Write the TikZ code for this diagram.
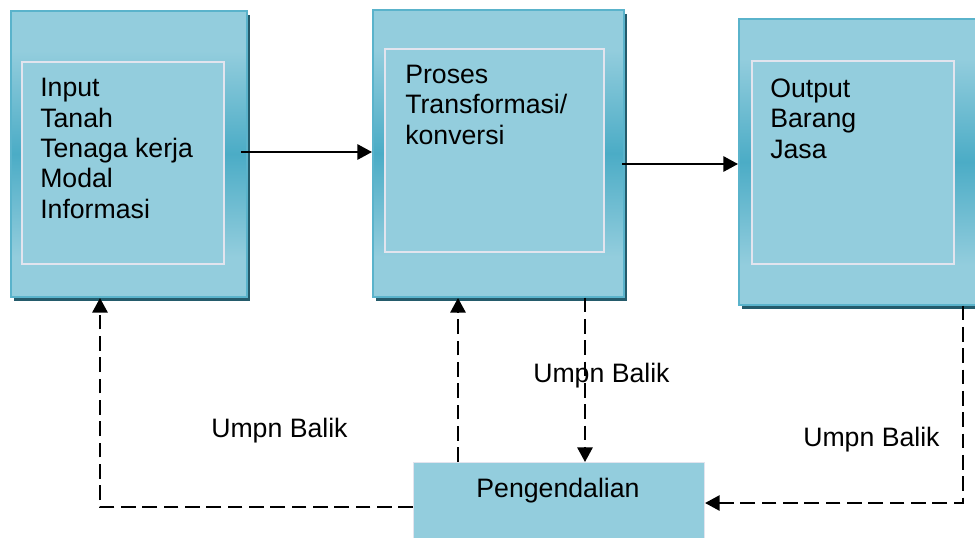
\documentclass[tikz,border=0pt]{standalone}
\usepackage{fontspec}
\setmainfont{Liberation Sans}
\usetikzlibrary{arrows.meta,shadows}

\definecolor{tlight}{HTML}{93CDDD}
\definecolor{tdark}{HTML}{4BACC6}
\definecolor{tedge}{HTML}{5AB3CB}
\definecolor{tshadow}{HTML}{245B6B}
\definecolor{innerline}{HTML}{E2E4EE}

% light teal with a darker band across the middle
\pgfdeclareverticalshading{boxband}{100bp}{color(0bp)=(tlight); color(32bp)=(tlight); color(50bp)=(tdark); color(68bp)=(tlight); color(100bp)=(tlight)}

\tikzset{
  outerbox/.style 2 args={shape=rectangle, anchor=north west, inner sep=0pt,
    minimum width=#1*0.75pt, minimum height=#2*0.75pt,
    shading=boxband, draw=tedge, line width=1.2pt,
    drop shadow={shadow xshift=2.6pt, shadow yshift=-3.2pt, fill=tshadow, opacity=1}},
  innerbox/.style 2 args={shape=rectangle, anchor=north west, inner sep=0pt,
    minimum width=#1*0.75pt, minimum height=#2*0.75pt,
    fill=tlight, draw=innerline, line width=1.2pt},
  ctrlbox/.style 2 args={shape=rectangle, anchor=north west, inner sep=0pt,
    minimum width=#1*0.75pt, minimum height=#2*0.75pt,
    fill=tlight, draw=innerline, line width=0.8pt},
  % multi-line text: the base anchor sits on the last line
  boxtext/.style={anchor=base west, align=left, inner sep=0pt,
    font=\fontsize{20}{22.7}\selectfont},
  lbl/.style={anchor=base west, inner sep=0pt, font=\fontsize{20}{24}\selectfont},
  flow/.style={line width=1.5pt, -{Triangle[length=11pt,width=11.5pt]}},
  feedback/.style={line width=1.5pt, dash pattern=on 11pt off 5pt,
    -{Triangle[length=11pt,width=11.5pt]}}
}

\begin{document}
\begin{tikzpicture}[x=0.75pt,y=-0.75pt]
\useasboundingbox (0,0) rectangle (975,537);
\clip (0,0) rectangle (975,537);

% the three stage blocks
\node[outerbox={236}{286}] (in)   at (10,10)  {};
\node[outerbox={251}{287}] (proc) at (372,9)  {};
\node[outerbox={250}{286}] (out)  at (738,18) {};

\node[innerbox={202}{202}] (inInner)   at (21,61)  {};
\node[innerbox={219}{203}] (procInner) at (384,48) {};
\node[innerbox={202}{203}] (outInner)  at (751,60) {};

\node[boxtext] (inText)   at (40,218) {Input\\Tanah\\Tenaga kerja\\Modal\\Informasi};
\node[boxtext] (procText) at (405,144) {Proses\\Transformasi/\\konversi};
\node[boxtext] (outText)  at (770,158) {Output\\Barang\\Jasa};

% control block
\node[ctrlbox={291}{90}] (ctrl) at (413,462) {};
\node[anchor=base, inner sep=0pt, font=\fontsize{20}{24}\selectfont] (ctrlText) at (558,497) {Pengendalian};

% main flow
\coordinate (f1a) at (241,152);
\coordinate (f2a) at (622,164);
\draw[flow] (f1a) -- (f1a -| proc.west);
\draw[flow] (f2a) -- (f2a -| out.west);

% feedback loops
\coordinate (k1) at (100,507);
\coordinate (k2) at (458,0);
\coordinate (k3) at (585,0);
\coordinate (k4) at (963,503);
\coordinate (inBottom) at (100,298);
\coordinate (procBottom) at (458,298);

\draw[feedback] (ctrl.west |- k1) -- (k1) -- (inBottom);
\draw[feedback] (ctrl.north -| k2) -- (procBottom);
\draw[feedback] (proc.south -| k3) -- (ctrl.north -| k3);
\draw[feedback] (out.south -| k4) -- (k4) -- (k4 -| ctrl.east);

% feedback labels
\node[lbl] (fbLeft)  at (211,437) {Umpn Balik};
\node[lbl] (fbMid)   at (533,382) {Umpn Balik};
\node[lbl] (fbRight) at (803,446) {Umpn Balik};
\end{tikzpicture}
\end{document}
